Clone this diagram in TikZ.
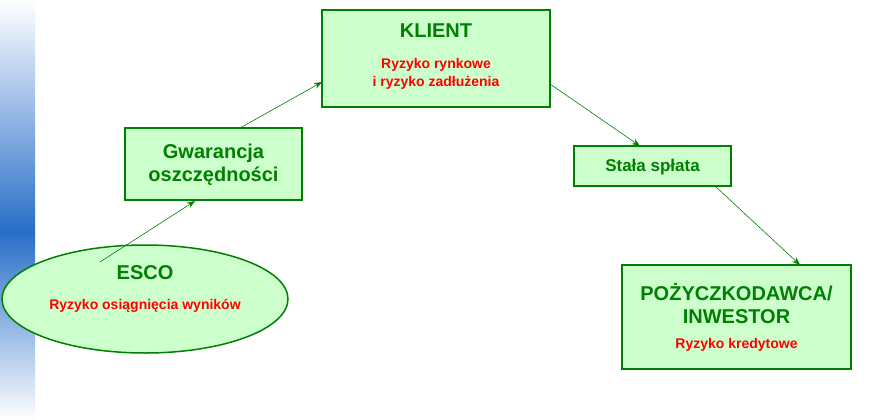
\documentclass[tikz,border=0pt]{standalone}
\usepackage{fontspec}
\setmainfont{Liberation Sans}
\usetikzlibrary{shapes.geometric,arrows.meta}
\definecolor{bx}{RGB}{204,255,204}
\definecolor{dg}{RGB}{0,128,0}
\definecolor{strip}{RGB}{40,110,200}
\tikzset{x=1pt,y=-1pt,
 box/.style={draw=dg,fill=bx,line width=1.5pt,align=center,font=\bfseries,text=dg,inner sep=0pt},
 big/.style={font=\bfseries\fontsize{20}{23}\selectfont,text=dg,align=center},
 mid/.style={font=\bfseries\fontsize{17}{20}\selectfont,text=dg,align=center},
 red/.style={text=red,font=\bfseries\fontsize{14}{18}\selectfont,align=center},
 arr/.style={draw=dg,line width=0.6pt,-{Stealth[length=8pt,width=6pt]}}}
\begin{document}
\begin{tikzpicture}
\useasboundingbox (0,0) rectangle (884,420);
\fill[white] (0,0) rectangle (884,420);
\shade[top color=white,bottom color=strip] (0,0) rectangle (35,232);
\shade[top color=strip,bottom color=white] (0,232) rectangle (35,420);
\node[box,minimum width=228,minimum height=97] (k) at (436,58.5) {};
\node[big] at (436,31) {KLIENT};
\node[red] at (436,74) {Ryzyko rynkowe\\i ryzyko zadłużenia};
\node[box,minimum width=177,minimum height=72] (g) at (213.5,164) {};
\node[big] at (213.5,165) {Gwarancja\\oszczędności};
\node[box,minimum width=157,minimum height=40] (s) at (652.5,166) {};
\node[mid] at (652.5,167) {Stała spłata};
\node[box,ellipse,minimum width=286,minimum height=108] (e) at (145,299) {};
\node[big] at (145,273) {ESCO};
\node[red] at (145,306) {Ryzyko osiągnięcia wyników};
\node[box,minimum width=229,minimum height=104] (p) at (736.5,317) {};
\node[big] at (736.5,304) {POŻYCZKODAWCA/\\INWESTOR};
\node[red] at (736.5,345) {Ryzyko kredytowe};
\draw[arr] (100,262) -- (195,201);
\draw[arr] (240,128) -- (322,82);
\draw[arr] (550,84) -- (640,146);
\draw[arr] (715,186) -- (800,265);
\end{tikzpicture}
\end{document}
